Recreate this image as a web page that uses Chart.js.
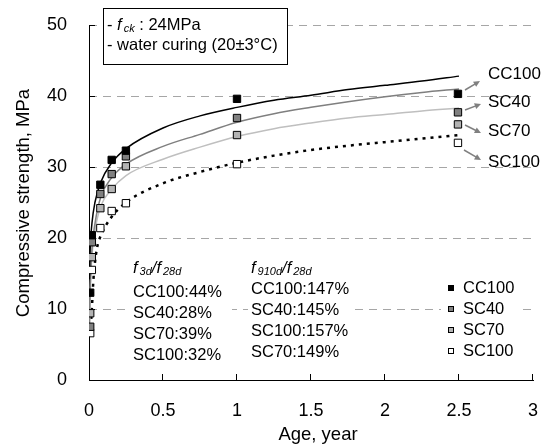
<!DOCTYPE html>
<html>
<head>
<meta charset="utf-8">
<script src="https://cdn.jsdelivr.net/npm/chart.js@4.4.0/dist/chart.umd.min.js"></script>
<style>
  html, body { margin: 0; padding: 0; background: #fff; }
  #wrap { width: 550px; height: 446px; position: relative; }
</style>
</head>
<body>
<div id="wrap"><canvas id="myChart" width="550" height="446"></canvas></div>
<script>
// ages of the test points, in years (3d, 7d, 28d, 56d, 91d, 365d, 910d)
const ages = [0.0082, 0.0192, 0.0767, 0.1534, 0.2493, 1.0, 2.493];
const cc100 = [12.3, 20.4, 27.5, 31.0, 32.3, 39.6, 40.3];
const sc40 = [7.5, 19.4, 26.2, 29.0, 31.5, 36.9, 37.7];
const sc70 = [9.4, 17.3, 24.2, 26.9, 30.1, 34.5, 36.0];
const sc100 = [6.6, 15.5, 21.4, 23.8, 24.9, 30.4, 33.4];

// trend curves
const curveAge = [0.003, 0.008, 0.02, 0.04, 0.08, 0.15, 0.25, 0.5, 0.75, 1, 1.25, 1.5, 1.75, 2, 2.25, 2.5];
const cc100Fit = [14.2, 18.4, 22.1, 25.0, 27.9, 30.5, 32.6, 35.5, 37.2, 38.4, 39.4, 40.1, 40.9, 41.5, 42.1, 42.8];
const sc40Fit = [8.0, 13.0, 18.5, 22.0, 25.8, 28.4, 30.4, 32.9, 34.6, 36.3, 37.5, 38.4, 39.2, 39.9, 40.5, 41.0];
const sc70Fit = [7.0, 12.0, 17.5, 21.0, 24.5, 26.8, 28.8, 31.1, 32.8, 34.3, 35.4, 36.2, 36.9, 37.4, 37.9, 38.3];
const sc100Age = [0.012, 0.02, 0.03, 0.04, 0.055, 0.075, 0.14, 0.25, 0.5, 0.75, 1, 1.25, 1.5, 1.75, 2, 2.25, 2.5];
const sc100Fit = [7.5, 10.3, 14.2, 16.5, 18.7, 20.1, 22.6, 25.0, 27.7, 29.3, 30.6, 31.6, 32.4, 33.0, 33.5, 34.0, 34.5];

const names = ['CC100', 'SC40', 'SC70', 'SC100'];
const fills = ['#000000', '#808080', '#b3b3b3', '#ffffff'];
const ratio3d = ['CC100:44%', 'SC40:28%', 'SC70:39%', 'SC100:32%'];
const ratio910d = ['CC100:147%', 'SC40:145%', 'SC100:157%', 'SC70:149%'];
const yTicks = [10, 20, 30, 40, 50];
const xTicks = [0.5, 1, 1.5, 2, 2.5, 3];

const FONT = "'Liberation Sans', Arial, sans-serif";

function pts(xs, ys) {
  return xs.map((x, i) => ({ x: x, y: ys[i] }));
}

function curve(label, xs, ys, color, width, dash) {
  return {
    type: 'line',
    label: label,
    data: pts(xs, ys),
    borderColor: color,
    borderWidth: width,
    borderDash: dash || [],
    pointRadius: 0,
    tension: 0.4,
    cubicInterpolationMode: 'monotone',
    fill: false,
    order: 2
  };
}

function marks(label, ys, fill) {
  return {
    type: 'scatter',
    label: label,
    data: pts(ages, ys),
    pointStyle: 'rect',
    pointRadius: 5.2,
    backgroundColor: fill,
    borderColor: '#000',
    borderWidth: 1,
    order: 1
  };
}

// italic f with subscript, returns the new x
function fSub(ctx, x, y, sub, size) {
  ctx.font = 'italic ' + size + 'px ' + FONT;
  ctx.fillText('f', x, y);
  x += ctx.measureText('f').width + 2;
  ctx.font = 'italic ' + Math.round(size * 0.68) + 'px ' + FONT;
  ctx.fillText(sub, x, y + 4);
  return x + ctx.measureText(sub).width;
}

function arrow(ctx, x1, y1, x2, y2) {
  const a = Math.atan2(y2 - y1, x2 - x1);
  ctx.beginPath();
  ctx.moveTo(x1, y1);
  ctx.lineTo(x2 - 4 * Math.cos(a), y2 - 4 * Math.sin(a));
  ctx.stroke();
  ctx.beginPath();
  ctx.moveTo(x2, y2);
  ctx.lineTo(x2 - 7 * Math.cos(a - 0.45), y2 - 7 * Math.sin(a - 0.45));
  ctx.lineTo(x2 - 7 * Math.cos(a + 0.45), y2 - 7 * Math.sin(a + 0.45));
  ctx.closePath();
  ctx.fill();
}

function noPad(s) {
  s.paddingLeft = 0;
  s.paddingRight = 0;
  s.paddingTop = 0;
  s.paddingBottom = 0;
}

const decorations = {
  id: 'decorations',
  beforeDatasetsDraw(chart) {
    const ctx = chart.ctx;
    const area = chart.chartArea;
    const ys = chart.scales.y;
    const xs = chart.scales.x;
    ctx.save();
    ctx.strokeStyle = '#a6a6a6';
    ctx.lineWidth = 1;
    ctx.setLineDash([8, 6]);
    yTicks.forEach(v => {
      const y = Math.round(ys.getPixelForValue(v)) + 0.5;
      ctx.beginPath();
      ctx.moveTo(area.left, y);
      ctx.lineTo(area.right, y);
      ctx.stroke();
    });
    ctx.setLineDash([]);
    // inward tick marks
    ctx.strokeStyle = '#000';
    xTicks.forEach(v => {
      const x = Math.round(xs.getPixelForValue(v)) - 0.5;
      ctx.beginPath();
      ctx.moveTo(x, area.bottom);
      ctx.lineTo(x, area.bottom - 6);
      ctx.stroke();
    });
    yTicks.forEach(v => {
      const y = Math.round(ys.getPixelForValue(v)) + 0.5;
      ctx.beginPath();
      ctx.moveTo(area.left, y);
      ctx.lineTo(area.left + 6, y);
      ctx.stroke();
    });
    ctx.restore();
  },
  afterDatasetsDraw(chart) {
    const ctx = chart.ctx;
    ctx.save();
    ctx.fillStyle = '#000';
    ctx.textBaseline = 'middle';
    ctx.textAlign = 'left';

    // condition box
    ctx.fillStyle = '#fff';
    ctx.fillRect(103, 8, 184, 56);
    ctx.strokeStyle = '#000';
    ctx.lineWidth = 1;
    ctx.strokeRect(103.5, 8.5, 184, 56);
    ctx.fillStyle = '#000';
    ctx.font = '16.5px ' + FONT;
    ctx.fillText('- ', 107, 25);
    let x = fSub(ctx, 107 + ctx.measureText('- ').width, 25, 'ck', 16.5);
    ctx.font = '16.5px ' + FONT;
    ctx.fillText(' : 24MPa', x, 25);
    ctx.fillText('- water curing (20\u00b13\u00b0C)', 107, 45);

    // ratio blocks and legend, with white backing
    ctx.fillStyle = '#fff';
    ctx.fillRect(129, 256, 103, 110);
    ctx.fillRect(248, 256, 104, 108);
    ctx.fillRect(441, 278, 78, 84);
    ctx.fillStyle = '#000';

    x = fSub(ctx, 133, 268, '3d', 16.5);
    ctx.font = 'italic 16.5px ' + FONT;
    ctx.fillText('/', x, 268);
    fSub(ctx, x + ctx.measureText('/').width, 268, '28d', 16.5);
    ctx.font = '16.5px ' + FONT;
    ratio3d.forEach((t, i) => ctx.fillText(t, 133, 292 + i * 21));

    x = fSub(ctx, 251, 268, '910d', 16.5);
    ctx.font = 'italic 16.5px ' + FONT;
    ctx.fillText('/', x, 268);
    fSub(ctx, x + ctx.measureText('/').width, 268, '28d', 16.5);
    ctx.font = '16.5px ' + FONT;
    ratio910d.forEach((t, i) => ctx.fillText(t, 251, 289 + i * 21.3));

    names.forEach((n, i) => {
      const y = 288 + i * 21;
      ctx.fillStyle = fills[i];
      ctx.fillRect(448, y - 3, 6, 6);
      ctx.strokeStyle = '#000';
      ctx.strokeRect(448.5, y - 2.5, 5, 5);
      ctx.fillStyle = '#000';
      ctx.fillText(n, 463, y);
    });

    // series labels with arrows
    ctx.font = '17px ' + FONT;
    const labelY = [74, 102, 131, 162];
    const arrows = [[465, 90, 480, 81], [465, 110, 481, 104], [465, 125, 481, 133], [464, 150, 481, 160]];
    ctx.strokeStyle = '#808080';
    ctx.fillStyle = '#808080';
    ctx.lineWidth = 1.5;
    arrows.forEach(a => arrow(ctx, a[0], a[1], a[2], a[3]));
    ctx.fillStyle = '#000';
    names.forEach((n, i) => ctx.fillText(n, 488, labelY[i]));

    // axis titles
    ctx.font = '18.5px ' + FONT;
    ctx.textAlign = 'center';
    ctx.fillText('Age, year', 318, 435);
    ctx.translate(24, 203);
    ctx.rotate(-Math.PI / 2);
    ctx.fillText('Compressive strength, MPa', 0, 0);
    ctx.restore();
  }
};

const ctx1 = document.getElementById('myChart');

const config1 = {
  type: 'scatter',
  data: {
    datasets: [
      curve('CC100 fit', curveAge, cc100Fit, '#000000', 1.5),
      curve('SC40 fit', curveAge, sc40Fit, '#7f7f7f', 1.5),
      curve('SC70 fit', curveAge, sc70Fit, '#bfbfbf', 1.5),
      curve('SC100 fit', sc100Age, sc100Fit, '#000000', 2.5, [3, 5]),
      marks('CC100', cc100, fills[0]),
      marks('SC40', sc40, fills[1]),
      marks('SC70', sc70, fills[2]),
      marks('SC100', sc100, fills[3])
    ]
  },
  options: {
    responsive: false,
    animation: false,
    events: [],
    layout: { padding: { left: 0, top: 25, right: 17, bottom: 0 } },
    plugins: { legend: { display: false }, tooltip: { enabled: false } },
    scales: {
      x: {
        type: 'linear',
        min: 0,
        max: 3,
        afterFit: s => { s.height = 66; noPad(s); },
        ticks: {
          stepSize: 0.5, color: '#000', padding: 20, maxRotation: 0,
          font: { family: FONT, size: 18 },
          callback: v => String(v)
        },
        grid: { display: false, drawTicks: false },
        border: { display: true, color: '#000', width: 1 }
      },
      y: {
        min: 0,
        max: 50,
        afterFit: s => { s.width = 89; noPad(s); },
        ticks: { stepSize: 10, color: '#000', padding: 22, font: { family: FONT, size: 18 } },
        grid: { display: false, drawTicks: false },
        border: { display: true, color: '#000', width: 1 }
      }
    }
  },
  plugins: [decorations]
};

new Chart(ctx1, config1);
</script>
</body>
</html>
